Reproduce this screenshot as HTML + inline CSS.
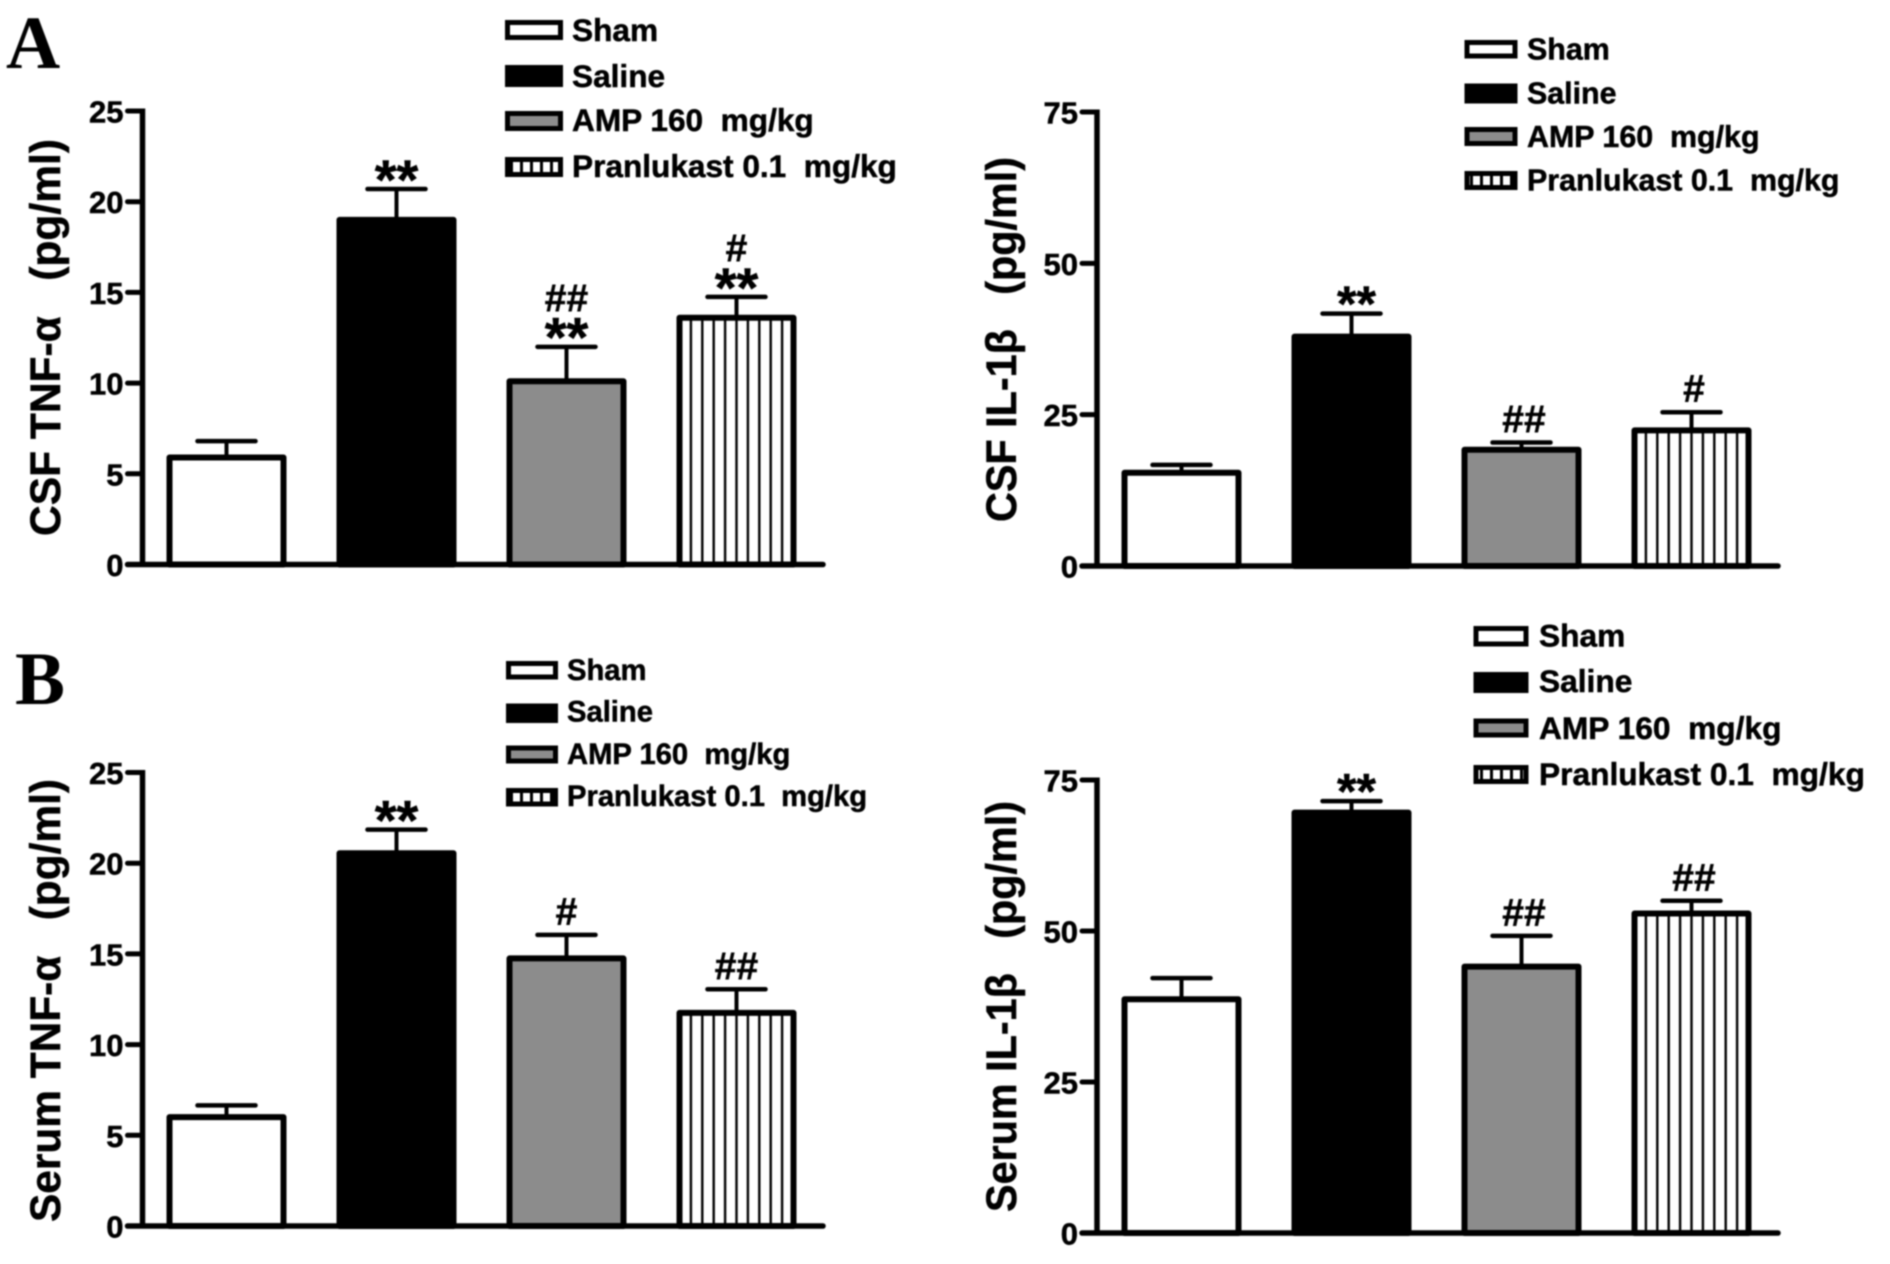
<!DOCTYPE html>
<html lang="en">
<head>
<meta charset="utf-8">
<title>CSF and serum TNF-α and IL-1β bar charts</title>
<style>
  html, body { margin: 0; padding: 0; background: #fff; }
  body { width: 1890px; height: 1264px; overflow: hidden; }
  svg { display: block; filter: blur(0.7px); }
  text { font-family: "Liberation Sans", "DejaVu Sans", sans-serif; font-weight: bold; fill: #000; white-space: pre; stroke: #000; stroke-width: 0.5px; }
  .panel-letter { font-family: "Liberation Serif", serif; font-size: 75px; stroke: none; }
  .sw { stroke: #000; stroke-width: 5; }
</style>
</head>
<body>
<svg id="figure" xmlns="http://www.w3.org/2000/svg" width="1890" height="1264" viewBox="0 0 1890 1264">
  <defs>
    <pattern id="swatch-hatch" patternUnits="userSpaceOnUse" width="10" height="10">
      <rect width="10" height="10" fill="#fff"></rect>
      <rect x="0" width="3" height="10" fill="#000"></rect>
    </pattern>
  </defs>
  <rect width="1890" height="1264" fill="#fff"></rect>

  <text class="panel-letter" x="6" y="68">A</text>
  <text class="panel-letter" x="15" y="704">B</text>

  <text transform="translate(60,536) rotate(-90)" font-size="43" textLength="397" lengthAdjust="spacingAndGlyphs">CSF TNF-α   (pg/ml)</text>
  <text transform="translate(1016,522) rotate(-90)" font-size="43" textLength="365" lengthAdjust="spacingAndGlyphs">CSF IL-1β   (pg/ml)</text>
  <text transform="translate(60,1222) rotate(-90)" font-size="43" textLength="443" lengthAdjust="spacingAndGlyphs">Serum TNF-α   (pg/ml)</text>
  <text transform="translate(1016,1212) rotate(-90)" font-size="43" textLength="411" lengthAdjust="spacingAndGlyphs">Serum IL-1β   (pg/ml)</text>

  <g font-size="31.6">
    <rect class="sw" x="507.5" y="22.5" width="53" height="15" fill="#fff"></rect>
    <text x="572" y="41">Sham</text>
    <rect class="sw" x="507.5" y="67.5" width="53" height="17" fill="#000"></rect>
    <text x="572" y="87">Saline</text>
    <rect class="sw" x="507.5" y="113.5" width="53" height="15" fill="#8c8c8c"></rect>
    <text x="572" y="131">AMP 160  mg/kg</text>
    <rect class="sw" x="507.5" y="159.5" width="53" height="15" fill="url(#swatch-hatch)"></rect>
    <text x="572" y="177">Pranlukast 0.1  mg/kg</text>
  </g>
  <g font-size="30.4">
    <rect class="sw" x="1467" y="42.5" width="48" height="13.5" fill="#fff"></rect>
    <text x="1527" y="59.5">Sham</text>
    <rect class="sw" x="1467" y="86" width="48" height="15" fill="#000"></rect>
    <text x="1527" y="103.5">Saline</text>
    <rect class="sw" x="1467" y="129.5" width="48" height="14" fill="#8c8c8c"></rect>
    <text x="1527" y="147">AMP 160  mg/kg</text>
    <rect class="sw" x="1467" y="173.5" width="48" height="14" fill="url(#swatch-hatch)"></rect>
    <text x="1527" y="190.5">Pranlukast 0.1  mg/kg</text>
  </g>
  <g font-size="29.2">
    <rect class="sw" x="508.5" y="663.5" width="47" height="13.5" fill="#fff"></rect>
    <text x="567" y="680">Sham</text>
    <rect class="sw" x="508.5" y="706" width="47" height="14.5" fill="#000"></rect>
    <text x="567" y="721.5">Saline</text>
    <rect class="sw" x="508.5" y="748" width="47" height="13" fill="#8c8c8c"></rect>
    <text x="567" y="764">AMP 160  mg/kg</text>
    <rect class="sw" x="508.5" y="790.5" width="47" height="13.5" fill="url(#swatch-hatch)"></rect>
    <text x="567" y="806">Pranlukast 0.1  mg/kg</text>
  </g>
  <g font-size="31.7">
    <rect class="sw" x="1476" y="628.5" width="50" height="15.5" fill="#fff"></rect>
    <text x="1539" y="646.5">Sham</text>
    <rect class="sw" x="1476" y="674.5" width="50" height="16" fill="#000"></rect>
    <text x="1539" y="692">Saline</text>
    <rect class="sw" x="1476" y="721" width="50" height="14" fill="#8c8c8c"></rect>
    <text x="1539" y="739">AMP 160  mg/kg</text>
    <rect class="sw" x="1476" y="767.5" width="50" height="14" fill="url(#swatch-hatch)"></rect>
    <text x="1539" y="785">Pranlukast 0.1  mg/kg</text>
  </g>
</svg>

<script>
// ---- Data ----
const categories = ['Sham', 'Saline', 'AMP 160 mg/kg', 'Pranlukast 0.1 mg/kg'];

const tnfTickLabels = [0, 5, 10, 15, 20, 25];
const il1bTickLabels = [0, 25, 50, 75];

const csfTnfMeans = [5.9, 19.0, 10.1, 13.6];
const csfTnfErrors = [0.9, 1.7, 1.9, 1.15];
const csfTnfMarks = [[], ['**'], ['##', '**'], ['#', '**']];

const csfIl1bMeans = [15.4, 37.9, 19.2, 22.4];
const csfIl1bErrors = [1.3, 3.8, 1.2, 3.0];
const csfIl1bMarks = [[], ['**'], ['##'], ['#']];

const serumTnfMeans = [6.0, 20.55, 14.75, 11.75];
const serumTnfErrors = [0.65, 1.3, 1.3, 1.3];
const serumTnfMarks = [[], ['**'], ['#'], ['##']];

const serumIl1bMeans = [38.7, 69.6, 44.1, 52.9];
const serumIl1bErrors = [3.5, 1.9, 5.1, 2.1];
const serumIl1bMarks = [[], ['**'], ['##'], ['##']];

// ---- Rendering ----
const SVG_NS = 'http://www.w3.org/2000/svg';
const figure = document.getElementById('figure');
const barFills = ['#fff', '#000', '#8c8c8c', '#fff'];

function make(tag, attrs, parent) {
  const el = document.createElementNS(SVG_NS, tag);
  for (const key in attrs) el.setAttribute(key, attrs[key]);
  parent.appendChild(el);
  return el;
}

function drawPanel(cfg) {
  const group = make('g', {}, figure);
  
  

  const yScale = v => cfg.y0 - (v / cfg.yMax) * (cfg.y0 - cfg.yTop);
  const xScale = i => cfg.firstCenter + i * cfg.step;

  // bars first so the axis baseline overlays them
  cfg.means.forEach((mean, i) => {
    const cx = xScale(i);
    const top = yScale(mean);
    const errTop = yScale(mean + cfg.errors[i]);

    const stem = make('line', { x1: cx, x2: cx, y1: top, y2: errTop, stroke: '#000', 'stroke-width': 4 }, group);
    
    

    const cap = make('line', { x1: cx - 29, x2: cx + 29, y1: errTop, y2: errTop, stroke: '#000', 'stroke-width': 4.5, 'stroke-linecap': 'round' }, group);
    
    

    const bar = make('rect', {
      x: cx - 57, y: top, width: 114, height: cfg.y0 - top,
      fill: barFills[i], stroke: '#000', 'stroke-width': 6, 'stroke-linejoin': 'round'
    }, group);
    
    

    if (i === 3) {
      for (let k = -4; k <= 4; k++) {
        const hx = cx + k * 11.4;
        const hatch = make('line', { x1: hx, x2: hx, y1: top, y2: cfg.y0, stroke: '#000', 'stroke-width': 2.4 }, group);
        
        
      }
    }

    // significance marks, stacked upward from the error bar
    let bottom = errTop - 12;
    cfg.marks[i].slice().reverse().forEach(mark => {
      const isStar = mark.indexOf('*') === 0;
      const size = isStar ? cfg.starSize : 39;
      const baseline = isStar ? bottom + 0.39 * size : bottom + 2;
      const label = make('text', {
        x: cx + (isStar ? cfg.starShift : cfg.starShift * 0.5),
        y: baseline, 'text-anchor': 'middle', 'font-size': size,
        'stroke-width': isStar ? 0.3 : 1
      }, group);
      label.textContent = mark;
      
      
      bottom -= (isStar ? 0.33 * size : 26) + 7;
    });
  });

  // y axis
  const yAxis = make('line', { x1: cfg.x0, x2: cfg.x0, y1: yScale(cfg.yMax) - 2.5, y2: cfg.y0 + 2, stroke: '#000', 'stroke-width': 5.5 }, group);
  
  

  // x axis
  const xAxis = make('line', { x1: cfg.x0 - 15, x2: cfg.xEnd, y1: cfg.y0, y2: cfg.y0, stroke: '#000', 'stroke-width': 5.5, 'stroke-linecap': 'round' }, group);
  
  

  // ticks and tick labels
  cfg.ticks.forEach(t => {
    const y = yScale(t);
    const tick = make('line', { x1: cfg.x0 - 15, x2: cfg.x0, y1: y, y2: y, stroke: '#000', 'stroke-width': 5, 'stroke-linecap': 'round' }, group);
    
    

    const label = make('text', { x: cfg.x0 - 19, y: y + 11.5, 'text-anchor': 'end', 'font-size': 31 }, group);
    label.textContent = t;
    
    
  });
}

drawPanel({ name: 'chart-csf-tnf', x0: 142.5, xEnd: 823, y0: 564.5, yTop: 111, yMax: 25, firstCenter: 226.5, step: 170, starSize: 56, starShift: 0,
  ticks: tnfTickLabels, means: csfTnfMeans, errors: csfTnfErrors, marks: csfTnfMarks });
drawPanel({ name: 'chart-csf-il1b', x0: 1097, xEnd: 1778, y0: 566, yTop: 112, yMax: 75, firstCenter: 1181.5, step: 170, starSize: 50, starShift: 5,
  ticks: il1bTickLabels, means: csfIl1bMeans, errors: csfIl1bErrors, marks: csfIl1bMarks });
drawPanel({ name: 'chart-serum-tnf', x0: 142.5, xEnd: 823, y0: 1226, yTop: 772.5, yMax: 25, firstCenter: 226.5, step: 170, starSize: 56, starShift: 0,
  ticks: tnfTickLabels, means: serumTnfMeans, errors: serumTnfErrors, marks: serumTnfMarks });
drawPanel({ name: 'chart-serum-il1b', x0: 1097, xEnd: 1778, y0: 1233, yTop: 780, yMax: 75, firstCenter: 1181.5, step: 170, starSize: 50, starShift: 5,
  ticks: il1bTickLabels, means: serumIl1bMeans, errors: serumIl1bErrors, marks: serumIl1bMarks });
</script>
</body>
</html>
